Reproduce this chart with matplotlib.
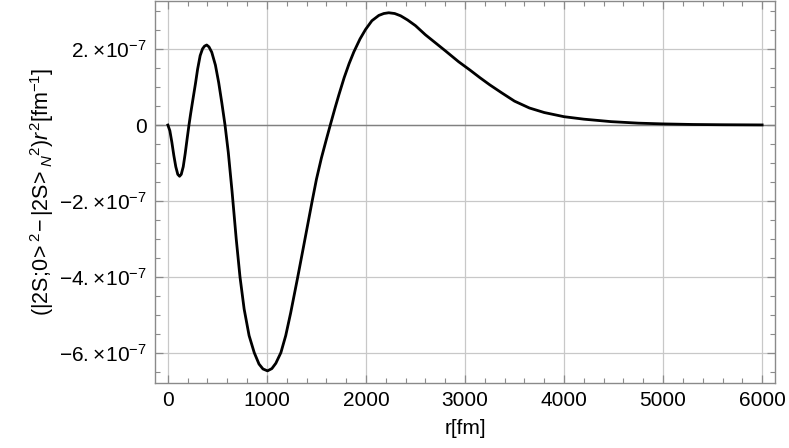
import numpy as np
import matplotlib
matplotlib.use("Agg")
import matplotlib.pyplot as plt
from matplotlib.ticker import MultipleLocator, FixedLocator, FixedFormatter

plt.rcParams['font.family'] = ['Liberation Sans', 'DejaVu Sans']
plt.rcParams['mathtext.fontset'] = 'custom'
plt.rcParams['mathtext.rm'] = 'Liberation Sans'
plt.rcParams['mathtext.it'] = 'Liberation Sans:italic'

# -----------------------------
# Data
# -----------------------------
r_fm = [0, 20, 40, 60, 80, 100, 118, 135, 155, 175, 195, 213, 230, 250, 279,
        300, 326, 350, 370, 392, 415, 443, 480, 513, 545, 577, 610, 648, 690,
        728, 770, 820, 872, 920, 960, 1006, 1050, 1090, 1141, 1190, 1240, 1308,
        1365, 1410, 1455, 1500, 1550, 1600, 1644, 1690, 1727, 1780, 1830, 1878,
        1940, 1996, 2060, 2130, 2180, 2230, 2290, 2350, 2420, 2500, 2600, 2700,
        2800, 2935, 3050, 3150, 3250, 3370, 3500, 3650, 3800, 4000, 4200, 4474,
        4750, 5000, 5300, 5600, 6000]
# difference in units of 1e-7 fm^-1
diff_e7 = [0, -0.15, -0.45, -0.8, -1.1, -1.3, -1.35, -1.3, -1.1, -0.75, -0.35, 0.0,
           0.3, 0.63, 1.1, 1.47, 1.83, 2.01, 2.08, 2.11, 2.06, 1.92, 1.58, 1.12,
           0.58, 0.0, -0.72, -1.75, -3.0, -4.0, -4.85, -5.55, -6.0, -6.3, -6.43,
           -6.48, -6.42, -6.28, -6.0, -5.55, -4.95, -4.05, -3.27, -2.65, -2.03,
           -1.43, -0.87, -0.38, 0.04, 0.47, 0.8, 1.25, 1.62, 1.93, 2.27, 2.52,
           2.75, 2.89, 2.94, 2.96, 2.94, 2.88, 2.77, 2.62, 2.38, 2.17, 1.96, 1.67,
           1.45, 1.25, 1.06, 0.85, 0.63, 0.45, 0.33, 0.22, 0.155, 0.09, 0.05,
           0.03, 0.015, 0.008, 0.003]

y_ticks = [-6e-7, -4e-7, -2e-7, 0, 2e-7]
y_tick_labels = [r"$-6.\!\times\!10^{-7}$", r"$-4.\!\times\!10^{-7}$",
                 r"$-2.\!\times\!10^{-7}$", "0", r"$2.\!\times\!10^{-7}$"]

# ==================================================
# Plot
# ==================================================
fig = plt.figure(figsize=(7.89, 4.48), dpi=100)
ax = fig.add_axes([155/789, 1 - 383/448, 620/789, 382/448])

ax.plot(r_fm, np.array(diff_e7) * 1e-7, color="black", lw=2.0, zorder=3,
        solid_joinstyle="round")
ax.axhline(0, color="#808080", lw=1.0, zorder=2)

ax.set_xlim(-130, 6130)
ax.set_ylim(-6.8e-7, 3.27e-7)

ax.xaxis.set_major_locator(MultipleLocator(1000))
ax.xaxis.set_minor_locator(MultipleLocator(200))
ax.yaxis.set_major_locator(FixedLocator(y_ticks))
ax.yaxis.set_major_formatter(FixedFormatter(y_tick_labels))
ax.yaxis.set_minor_locator(MultipleLocator(0.5e-7))

ax.grid(True, which="major", color="#c8c8c8", lw=0.9, zorder=1)
ax.tick_params(which="both", direction="in", top=True, right=True,
               color="#8a8a8a", labelsize=15, pad=6)
ax.tick_params(which="major", length=6, width=0.9)
ax.tick_params(which="minor", length=3.5, width=0.8)
for s in ax.spines.values():
    s.set_color("#8a8a8a")
    s.set_linewidth(1.0)

ax.set_xlabel("r[fm]", fontsize=15, labelpad=6)
ax.set_ylabel(r"$(|2\mathrm{S};\!0\!>^2\!-|2\mathrm{S}\!>_{N}{}^{2})r^2[\mathrm{fm}^{-1}]$",
              fontsize=15.5, labelpad=2)

fig.savefig("out.png", dpi=100)
